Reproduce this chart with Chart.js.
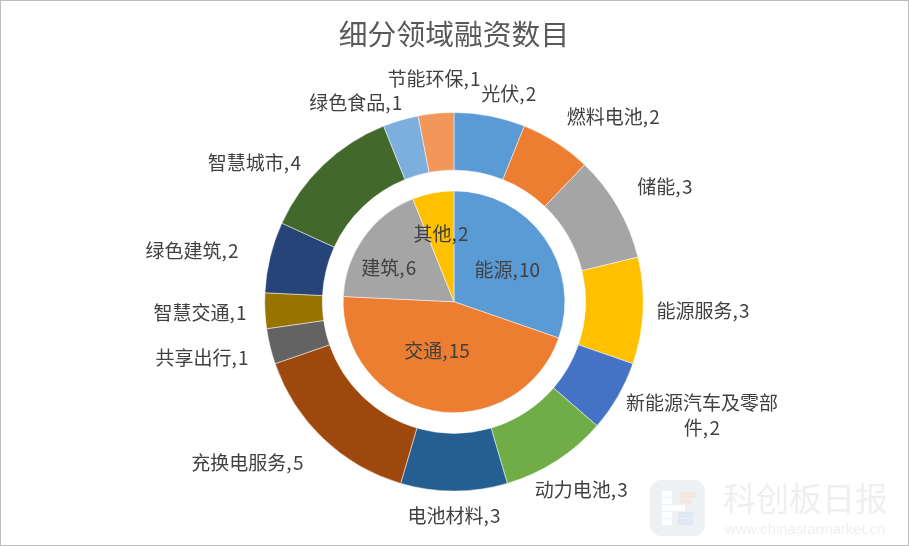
<!DOCTYPE html>
<html>
<head>
<meta charset="utf-8">
<title>细分领域融资数目</title>
<script src="https://cdn.jsdelivr.net/npm/chart.js@4"></script>
<style>
    html, body { margin: 0; padding: 0; background: #fff; overflow: hidden; }
    canvas { display: block; outline: 1px solid #bdbdbd; outline-offset: -1px; }
</style>
</head>
<body>
<canvas id="funding-chart" width="909" height="546"></canvas>
<script>
    var chartTitle = "细分领域融资数目";

    // inner pie
    var innerCategories = ["能源", "交通", "建筑", "其他"];
    var innerValues = [10, 15, 6, 2];
    var innerColors = ["#5B9BD5", "#ED7D31", "#A5A5A5", "#FFC000"];

    // outer ring
    var outerCategories = ["光伏", "燃料电池", "储能", "能源服务", "新能源汽车及零部件", "动力电池", "电池材料",
        "充换电服务", "共享出行", "智慧交通", "绿色建筑", "智慧城市", "绿色食品", "节能环保"];
    var outerValues = [2, 2, 3, 3, 2, 3, 3, 5, 1, 1, 2, 4, 1, 1];
    var outerColors = ["#5B9BD5", "#ED7D31", "#A5A5A5", "#FFC000", "#4472C4", "#70AD47", "#255E91",
        "#9E480E", "#636363", "#997300", "#264478", "#43682B", "#7CAFDD", "#F1975A"];

    // hand placed data labels, shift from the slice's outer edge
    var innerShift = [[-37, 32], [4, -60], [25, 30], [8, 41]];
    var outerShift = [[19, -22], [57, -26], [47, -20], [60, 0], [84, 19], [25, 29], [0, 25],
        [-76, 24], [-68, 11], [-65, 2], [-78, -6], [-69, -2], [-45, -17], [-2, -35]];

    var labelFont = '"Noto Sans CJK SC", sans-serif';

    function drawLabels(chart, datasetIndex, names, values, shifts) {
        var ctx = chart.ctx;
        chart.getDatasetMeta(datasetIndex).data.forEach(function (arc, i) {
            var mid = (arc.startAngle + arc.endAngle) / 2;
            var x = arc.x + Math.cos(mid) * arc.outerRadius + shifts[i][0];
            var y = arc.y + Math.sin(mid) * arc.outerRadius + shifts[i][1];
            var text = names[i] + ", " + values[i];
            // the long label wraps in the original
            if (text.length > 10) {
                ctx.fillText(text.slice(0, 8), x, y - 12.5);
                ctx.fillText(text.slice(8), x, y + 12.5);
            } else {
                ctx.fillText(text, x, y);
            }
        });
    }

    var sliceLabels = {
        id: "sliceLabels",
        afterDatasetsDraw: function (chart) {
            var ctx = chart.ctx;
            ctx.save();
            ctx.font = "19px " + labelFont;
            ctx.wordSpacing = "-3px";
            ctx.fillStyle = "#404040";
            ctx.textAlign = "center";
            ctx.textBaseline = "middle";
            drawLabels(chart, 2, innerCategories, innerValues, innerShift);
            drawLabels(chart, 0, outerCategories, outerValues, outerShift);
            ctx.restore();
        }
    };

    // faded logo and site name, bottom right
    var watermark = {
        id: "watermark",
        afterDraw: function (chart) {
            var ctx = chart.ctx;
            ctx.save();
            ctx.fillStyle = "#eef1f4";
            ctx.beginPath();
            ctx.roundRect(650, 480, 55, 56, 11);
            ctx.fill();
            ctx.fillStyle = "#ffffff";
            ctx.fillRect(662, 491, 10, 6);
            ctx.fillRect(662, 498, 10, 6);
            ctx.fillRect(662, 505, 23, 6);
            ctx.fillRect(662, 512, 10, 6);
            ctx.fillRect(662, 519, 10, 6);
            ctx.fillStyle = "#f5e6df";
            ctx.fillRect(680, 492, 16, 6);
            ctx.fillRect(680, 499, 12, 5);
            ctx.fillStyle = "#dfe8f2";
            ctx.fillRect(678, 512, 15, 6);
            ctx.fillRect(678, 519, 15, 6);
            ctx.fillStyle = "#efefef";
            ctx.textBaseline = "middle";
            ctx.font = '33px "Noto Sans CJK SC", sans-serif';
            ctx.fillText("科创板日报", 723, 498);
            ctx.fillStyle = "#efefef";
            ctx.font = '14.8px "Liberation Sans", sans-serif';
            ctx.fillText("www.chinastarmarket.cn", 725, 530);
            ctx.restore();
        }
    };

    var chart = new Chart(document.getElementById("funding-chart").getContext("2d"), {
        type: "doughnut",
        data: {
            labels: outerCategories,
            datasets: [{
                data: outerValues,
                backgroundColor: outerColors,
                borderColor: "#ffffff",
                borderWidth: 0.5,
                weight: 57.7
            }, {
                // empty white gap between ring and pie
                data: [1],
                backgroundColor: "rgba(0,0,0,0)",
                borderWidth: 0,
                weight: 20.8
            }, {
                data: innerValues,
                backgroundColor: innerColors,
                borderColor: "#ffffff",
                borderWidth: 0.5,
                weight: 111
            }]
        },
        options: {
            responsive: false,
            animation: false,
            cutout: 0,
            layout: {
                padding: { left: 264, right: 265, top: 0, bottom: 54.7 }
            },
            plugins: {
                legend: { display: false },
                tooltip: { enabled: false },
                title: {
                    display: true,
                    text: chartTitle,
                    color: "#595959",
                    font: { family: labelFont, size: 28.8, weight: "normal" },
                    padding: { top: 17, bottom: 60.7 }
                }
            }
        },
        plugins: [sliceLabels, watermark]
    });
</script>
</body>
</html>
